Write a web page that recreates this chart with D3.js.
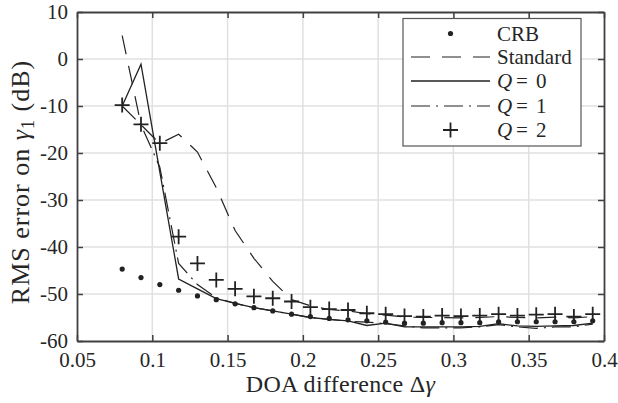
<!DOCTYPE html>
<html>
<head>
<meta charset="utf-8">
<script src="https://cdn.jsdelivr.net/npm/d3@7"></script>
<style>
  html, body { margin: 0; padding: 0; background: #fff; }
  svg { display: block; }
  text { font-family: "Liberation Serif", "Times New Roman", serif; fill: #262626; }
</style>
</head>
<body>
<svg id="chart" width="618" height="403"></svg>
<script>
// ---- data ----
const doaDiff = [0.08, 0.0925, 0.105, 0.1175, 0.13, 0.1425, 0.155, 0.1675, 0.18, 0.1925,
                 0.205, 0.2175, 0.23, 0.2425, 0.255, 0.2675, 0.28, 0.2925, 0.305, 0.3175,
                 0.33, 0.3425, 0.355, 0.3675, 0.38, 0.3925];
const crb = [-44.7, -46.5, -48.0, -49.2, -50.4, -51.2, -52.1, -52.9, -53.6, -54.3,
             -54.8, -55.2, -55.5, -55.7, -56.0, -56.2, -56.2, -56.1, -56.1, -56.1,
             -55.9, -55.9, -55.9, -55.9, -55.9, -55.7];
const standard = [5.0, -14.0, -18.0, -16.0, -19.8, -27.4, -36.5, -42.4, -47.3, -51.2,
                  -52.5, -53.3, -53.6, -54.2, -54.5, -54.9, -55.0, -55.0, -55.1, -55.0,
                  -54.8, -55.0, -55.1, -54.9, -55.1, -54.8];
const q0 = [-10.0, -1.1, -24.0, -46.8, -48.9, -51.0, -52.0, -52.9, -53.6, -54.3,
            -55.0, -55.4, -55.7, -56.7, -56.2, -57.0, -57.0, -57.0, -57.0, -56.9,
            -56.3, -56.8, -56.9, -56.8, -56.7, -56.2];
const q1 = [-10.0, -14.0, -23.0, -43.5, -48.0, -50.8, -52.0, -52.9, -53.6, -54.3,
            -55.0, -55.4, -55.8, -56.0, -56.3, -56.8, -57.2, -57.2, -57.2, -57.0,
            -56.5, -57.0, -57.3, -57.0, -57.0, -56.4];
const q2 = [-9.8, -13.9, -17.9, -37.8, -43.5, -47.0, -48.9, -50.5, -50.9, -51.6,
            -52.8, -53.2, -53.4, -54.1, -54.3, -54.7, -54.8, -54.6, -54.7, -54.6,
            -54.3, -54.6, -54.4, -54.3, -54.8, -54.3];
const xTicks = [0.05, 0.1, 0.15, 0.2, 0.25, 0.3, 0.35, 0.4];
const xTickLabels = ["0.05", "0.1", "0.15", "0.2", "0.25", "0.3", "0.35", "0.4"];
const yTicks = [10, 0, -10, -20, -30, -40, -50, -60];
const yTickLabels = ["10", "0", "-10", "-20", "-30", "-40", "-50", "-60"];
const legendNames = ["CRB", "Standard", "Q=0", "Q=1", "Q=2"];

// ---- layout ----
const L = 77, R = 604, T = 12, B = 341;
const svg = d3.select("#chart");
const x = d3.scaleLinear().domain([0.05, 0.4]).range([L, R]);
const y = d3.scaleLinear().domain([-60, 10]).range([B, T]);
const ink = "#222";
const axisCol = "#404040";

// grid
const grid = svg.append("g");
grid.selectAll(".gx").data(xTicks.slice(1, -1)).enter().append("line")
  .attr("x1", d => x(d)).attr("x2", d => x(d)).attr("y1", T).attr("y2", B)
  .attr("stroke", "#e0e0e0").attr("stroke-width", 1.5);
grid.selectAll(".gy").data(yTicks.slice(1, -1)).enter().append("line")
  .attr("y1", d => y(d)).attr("y2", d => y(d)).attr("x1", L).attr("x2", R)
  .attr("stroke", "#e0e0e0").attr("stroke-width", 1.5);

// axes with inward ticks on all four sides
const fmtX = (d, i) => xTickLabels[i];
const fmtY = (d, i) => yTickLabels[i];
const axB = svg.append("g").attr("transform", `translate(0,${B})`)
  .call(d3.axisBottom(x).tickValues(xTicks).tickFormat(fmtX).tickSizeInner(-6).tickSizeOuter(0).tickPadding(11));
const axL = svg.append("g").attr("transform", `translate(${L},0)`)
  .call(d3.axisLeft(y).tickValues(yTicks).tickFormat(fmtY).tickSizeInner(-6).tickSizeOuter(0).tickPadding(9));
const axT = svg.append("g").attr("transform", `translate(0,${T})`)
  .call(d3.axisTop(x).tickValues(xTicks).tickFormat("").tickSizeInner(-6).tickSizeOuter(0));
const axR = svg.append("g").attr("transform", `translate(${R},0)`)
  .call(d3.axisRight(y).tickValues(yTicks).tickFormat("").tickSizeInner(-6).tickSizeOuter(0));
[axB, axL, axT, axR].forEach(g => {
  g.select(".domain").attr("stroke", axisCol).attr("stroke-width", 1.8);
  g.selectAll(".tick line").attr("stroke", axisCol).attr("stroke-width", 1.5);
  g.selectAll(".tick text").attr("font-size", 21).attr("fill", "#303030")
    .style("font-family", '"Liberation Serif", serif');
});

// data curves
const idx = d3.range(doaDiff.length);
const line = arr => d3.line().x(i => x(doaDiff[i])).y(i => y(arr[i]))(idx);
const plot = svg.append("g");
plot.append("path").attr("d", line(standard)).attr("fill", "none")
  .attr("stroke", ink).attr("stroke-width", 1.2).attr("stroke-dasharray", "19,12");
plot.append("path").attr("d", line(q0)).attr("fill", "none")
  .attr("stroke", ink).attr("stroke-width", 1.3);
plot.append("path").attr("d", line(q1)).attr("fill", "none")
  .attr("stroke", ink).attr("stroke-width", 1.2).attr("stroke-dasharray", "19,6,2,6");
plot.selectAll(".crb").data(idx).enter().append("circle")
  .attr("cx", i => x(doaDiff[i])).attr("cy", i => y(crb[i])).attr("r", 2.6).attr("fill", ink);
const plus = (g, cx, cy, s) => {
  g.append("path").attr("d", `M${cx - s},${cy}H${cx + s}M${cx},${cy - s}V${cy + s}`)
    .attr("stroke", ink).attr("stroke-width", 1.8).attr("fill", "none");
};
idx.forEach(i => plus(plot, x(doaDiff[i]), y(q2[i]), 7.5));

// legend
const lg = svg.append("g");
lg.append("rect").attr("x", 403).attr("y", 18.5).attr("width", 178).attr("height", 127.5)
  .attr("fill", "#fff").attr("stroke", "#555").attr("stroke-width", 1.2);
const rowY = [33.5, 57, 81, 106, 130];
const sx1 = 411, sx2 = 490, tx = 497;
lg.append("circle").attr("cx", (sx1 + sx2) / 2).attr("cy", rowY[0]).attr("r", 2.6).attr("fill", ink);
lg.append("line").attr("x1", sx1).attr("x2", sx2).attr("y1", rowY[1]).attr("y2", rowY[1])
  .attr("stroke", ink).attr("stroke-width", 1.2).attr("stroke-dasharray", "19,12");
lg.append("line").attr("x1", sx1).attr("x2", sx2).attr("y1", rowY[2]).attr("y2", rowY[2])
  .attr("stroke", ink).attr("stroke-width", 1.3);
lg.append("line").attr("x1", sx1).attr("x2", sx2).attr("y1", rowY[3]).attr("y2", rowY[3])
  .attr("stroke", ink).attr("stroke-width", 1.2).attr("stroke-dasharray", "19,6,2,6");
plus(lg, (sx1 + sx2) / 2, rowY[4], 7.5);
legendNames.forEach((name, k) => {
  if (name.startsWith("Q=")) {
    lg.append("text").attr("x", tx).attr("y", rowY[k] + 7).attr("font-size", 21)
      .attr("font-style", "italic").text("Q");
    lg.append("text").attr("x", tx + 19).attr("y", rowY[k] + 7).attr("font-size", 21).text("=");
    lg.append("text").attr("x", tx + 39).attr("y", rowY[k] + 7).attr("font-size", 21).text(name.slice(2));
  } else {
    lg.append("text").attr("x", tx).attr("y", rowY[k] + 7).attr("font-size", 21).text(name);
  }
});

// axis labels
const xl = svg.append("text").attr("x", (L + R) / 2).attr("y", 392)
  .attr("text-anchor", "middle").attr("font-size", 24).attr("letter-spacing", 0.3);
xl.append("tspan").text("DOA difference Δ");
xl.append("tspan").attr("font-style", "italic").text("γ");

const yl = svg.append("text").attr("transform", `translate(29,182) rotate(-90)`)
  .attr("text-anchor", "middle").attr("font-size", 26).attr("letter-spacing", 1);
yl.append("tspan").text("RMS error on ");
yl.append("tspan").attr("font-style", "italic").text("γ");
yl.append("tspan").attr("font-size", 18).attr("dy", 5).text("1");
yl.append("tspan").attr("dy", -5).text(" (dB)");
</script>
</body>
</html>
